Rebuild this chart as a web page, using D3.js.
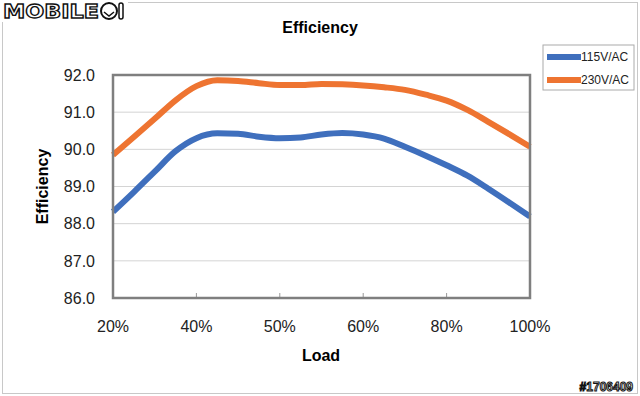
<!DOCTYPE html>
<html>
<head>
<meta charset="utf-8">
<script src="https://cdn.jsdelivr.net/npm/d3@7"></script>
<style>
  body { margin: 0; background: #fff; }
  svg { display: block; font-family: "Liberation Sans", Arial, sans-serif; }
</style>
</head>
<body>
<svg id="chart" width="640" height="396"></svg>
<script>
// category labels on the x axis (evenly spaced)
const loadLabels = ["20%", "40%", "50%", "60%", "80%", "100%"];
// sample positions along the category axis (0 = 20%, 5 = 100%)
const samplePos = [0, 0.25, 0.5, 0.75, 1, 1.25, 1.5, 1.75, 2, 2.25, 2.5,
  2.75, 3, 3.25, 3.5, 3.75, 4, 4.25, 4.5, 4.75, 5];
const eff115 = [88.32, 88.85, 89.40, 89.95, 90.30, 90.43, 90.42, 90.34, 90.30, 90.32, 90.40,
  90.44, 90.40, 90.29, 90.07, 89.83, 89.57, 89.29, 88.94, 88.57, 88.19];
const eff230 = [89.85, 90.33, 90.82, 91.32, 91.70, 91.86, 91.84, 91.78, 91.73, 91.73, 91.76,
  91.75, 91.72, 91.67, 91.60, 91.47, 91.31, 91.06, 90.74, 90.41, 90.07];
const yTicks = [86, 87, 88, 89, 90, 91, 92];
const seriesNames = ["115V/AC", "230V/AC"];
const colors = ["#3f6fbd", "#ee7431"];

const MARGIN = { top: 75, right: 110, bottom: 98, left: 113 };
const svg = d3.select("#chart");
const W = 640, H = 396;
const width = W - MARGIN.left - MARGIN.right;
const height = H - MARGIN.top - MARGIN.bottom;

// outer frame
svg.append("rect")
  .attr("x", 2.5).attr("y", 2.5)
  .attr("width", W - 5).attr("height", H - 5)
  .attr("fill", "#fff").attr("stroke", "#c8c8c8");

const x = d3.scaleLinear().domain([0, loadLabels.length - 1]).range([0, width]);
const y = d3.scaleLinear().domain([86, 92]).range([height, 0]);

const g = svg.append("g")
  .attr("transform", "translate(" + MARGIN.left + "," + MARGIN.top + ")");

// gridlines
g.selectAll("line.grid")
  .data(yTicks.slice(1, -1))
  .enter().append("line")
  .attr("class", "grid")
  .attr("x1", 0).attr("x2", width)
  .attr("y1", d => y(d)).attr("y2", d => y(d))
  .attr("stroke", "#d4d4d4").attr("stroke-width", 1);

// y axis labels
g.selectAll("text.ylab")
  .data(yTicks)
  .enter().append("text")
  .attr("class", "ylab")
  .attr("x", -18)
  .attr("y", d => y(d))
  .attr("dy", "0.36em")
  .attr("text-anchor", "end")
  .style("font-size", "16px")
  .style("fill", "#222")
  .text(d => d.toFixed(1));

// x tick marks (inside, at category positions)
g.selectAll("line.xtick")
  .data(d3.range(1, loadLabels.length - 1))
  .enter().append("line")
  .attr("x1", d => x(d)).attr("x2", d => x(d))
  .attr("y1", height).attr("y2", height - 5)
  .attr("stroke", "#999");

// x labels
g.selectAll("text.xlab")
  .data(loadLabels)
  .enter().append("text")
  .attr("class", "xlab")
  .attr("x", (d, i) => x(i))
  .attr("y", height + 28)
  .attr("dy", "0.36em")
  .attr("text-anchor", "middle")
  .style("font-size", "16px")
  .style("fill", "#222")
  .text(d => d);

// lines
const line = d3.line()
  .x((d, i) => x(samplePos[i]))
  .y(d => y(d))
  .curve(d3.curveMonotoneX);

[eff115, eff230].forEach((s, k) => {
  g.append("path")
    .datum(s)
    .attr("d", line)
    .attr("fill", "none")
    .attr("stroke", colors[k])
    .attr("stroke-width", 6)
    .attr("stroke-linejoin", "round");
});

// plot frame
g.append("rect")
  .attr("width", width).attr("height", height)
  .attr("fill", "none").attr("stroke", "#7f7f7f").attr("stroke-width", 2.5);

// titles
svg.append("text")
  .attr("x", 320).attr("y", 33)
  .attr("text-anchor", "middle")
  .style("font-size", "16px").style("font-weight", "bold")
  .text("Efficiency");

svg.append("text")
  .attr("transform", "translate(48," + (MARGIN.top + height / 2) + ") rotate(-90)")
  .attr("text-anchor", "middle")
  .style("font-size", "16px").style("font-weight", "bold")
  .text("Efficiency");

svg.append("text")
  .attr("x", 321).attr("y", 361)
  .attr("text-anchor", "middle")
  .style("font-size", "16px").style("font-weight", "bold")
  .text("Load");

// legend
const lg = svg.append("g").attr("transform", "translate(543,45)");
lg.append("rect")
  .attr("width", 91).attr("height", 45)
  .attr("fill", "#fff").attr("stroke", "#aaa");
seriesNames.forEach((name, k) => {
  lg.append("line")
    .attr("x1", 4).attr("x2", 38)
    .attr("y1", 12 + k * 23).attr("y2", 12 + k * 23)
    .attr("stroke", colors[k]).attr("stroke-width", 6);
  lg.append("text")
    .attr("x", 38).attr("y", 12 + k * 23)
    .attr("dy", "0.36em")
    .style("font-size", "12px").style("fill", "#222")
    .text(name);
});

// watermark logo + id
svg.append("rect").attr("x", 0).attr("y", 0).attr("width", 128).attr("height", 22).attr("fill", "#fff");
svg.append("text")
  .attr("x", 3).attr("y", 18)
  .style("font-size", "19px").style("font-weight", "bold")
  .style("font-family", "DejaVu Sans, sans-serif")
  .attr("textLength", 96)
  .attr("lengthAdjust", "spacingAndGlyphs")
  .attr("fill", "#fff").attr("stroke", "#111").attr("stroke-width", 1.3)
  .text("MOBILE");
svg.append("circle")
  .attr("cx", 109).attr("cy", 11).attr("r", 8)
  .attr("fill", "#fff").attr("stroke", "#111").attr("stroke-width", 2);
svg.append("path")
  .attr("d", "M104,12 L109,16 L114,12")
  .attr("fill", "none").attr("stroke", "#111").attr("stroke-width", 1.5);
svg.append("rect")
  .attr("x", 119).attr("y", 3).attr("width", 4).attr("height", 16).attr("rx", 2)
  .attr("fill", "#fff").attr("stroke", "#111").attr("stroke-width", 1.5);

svg.append("text")
  .attr("x", 633).attr("y", 391)
  .attr("text-anchor", "end")
  .style("font-size", "12px").style("font-weight", "bold")
  .attr("fill", "#fff").attr("stroke", "#111").attr("stroke-width", 1)
  .text("#1706409");
</script>
</body>
</html>
